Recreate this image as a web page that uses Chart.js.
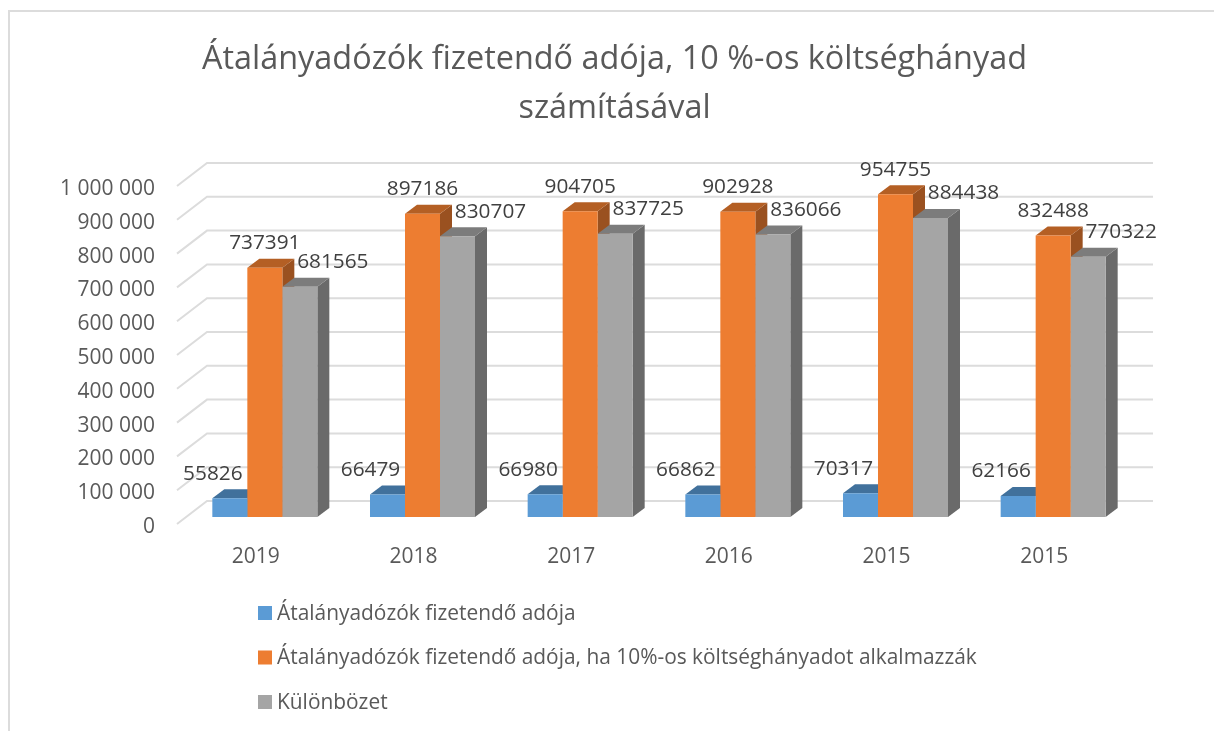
<!DOCTYPE html>
<html>
<head>
<meta charset="utf-8">
<title>Átalányadózók</title>
<script src="https://cdn.jsdelivr.net/npm/chart.js@4"></script>
<style>
  body { margin: 0; background: #fff; }
  canvas { display: block; }
</style>
</head>
<body>
<canvas id="myChart" width="1214" height="731"></canvas>
<script>
const evek = ['2019', '2018', '2017', '2016', '2015', '2015'];
const adoja = [55826, 66479, 66980, 66862, 70317, 62166];
const adoja10 = [737391, 897186, 904705, 902928, 954755, 832488];
const kulonbozet = [681565, 830707, 837725, 836066, 884438, 770322];
const yCimkek = ['0', '100 000', '200 000', '300 000', '400 000', '500 000',
  '600 000', '700 000', '800 000', '900 000', '1 000 000'];

const szovegSzin = '#595959';
const racsSzin = '#dcdcdc';
const fontCsalad = '"Open Sans", "Noto Sans", sans-serif';

// top and side colours of the fake 3d bars, one per series
const tetoSzin = ['#41719c', '#b45f24', '#7c7c7c'];
const oldalSzin = ['#37608a', '#9a5120', '#6a6a6a'];
const cimkeEltolas = [-17, 0, 33];

// depth of a bar
const melyX = 12;
const melyY = 9;

const keret = {
  id: 'keret',
  beforeDraw(chart) {
    const ctx = chart.ctx;
    ctx.save();
    ctx.strokeStyle = racsSzin;
    ctx.lineWidth = 2;
    ctx.beginPath();
    ctx.moveTo(9, 731);
    ctx.lineTo(9, 11);
    ctx.lineTo(1214, 11);
    ctx.stroke();
    ctx.restore();
  }
};

const igazit = {
  id: 'igazit',
  afterLayout(chart) {
    // title is centred on the frame
    chart.titleBlock.left = 0;
    chart.titleBlock.right = 1229;
  }
};

// one column legend under the plot
const jelmagyarazat = {
  id: 'jelmagyarazat',
  afterDraw(chart) {
    const ctx = chart.ctx;
    ctx.save();
    ctx.font = '20.9px ' + fontCsalad;
    ctx.textBaseline = 'middle';
    chart.data.datasets.forEach((ds, i) => {
      const sorY = 613 + i * 44.5;
      ctx.fillStyle = ds.backgroundColor;
      ctx.fillRect(258, sorY - 7, 14, 14);
      ctx.fillStyle = szovegSzin;
      ctx.fillText(ds.label, 277, sorY + 1);
    });
    ctx.restore();
  }
};

const harom = {
  id: 'harom',
  beforeDatasetsDraw(chart) {
    const ctx = chart.ctx;
    const y = chart.scales.y;
    const area = chart.chartArea;
    ctx.save();
    // back wall and left wall lines
    ctx.strokeStyle = racsSzin;
    ctx.lineWidth = 2;
    y.ticks.forEach(t => {
      const py = y.getPixelForValue(t.value);
      ctx.beginPath();
      ctx.moveTo(area.left - 9, py + 7);
      ctx.lineTo(area.left + 21, py - 16);
      ctx.lineTo(area.right + 21, py - 16);
      ctx.stroke();
    });
    // tops and sides, the library draws the front faces over them
    chart.data.datasets.forEach((ds, i) => {
      chart.getDatasetMeta(i).data.forEach(bar => {
        const bal = bar.x - bar.width / 2;
        const jobb = bar.x + bar.width / 2;
        ctx.fillStyle = oldalSzin[i];
        ctx.beginPath();
        ctx.moveTo(jobb, bar.y);
        ctx.lineTo(jobb + melyX, bar.y - melyY);
        ctx.lineTo(jobb + melyX, bar.base - melyY);
        ctx.lineTo(jobb, bar.base);
        ctx.closePath();
        ctx.fill();
        ctx.fillStyle = tetoSzin[i];
        ctx.beginPath();
        ctx.moveTo(bal, bar.y);
        ctx.lineTo(bal + melyX, bar.y - melyY);
        ctx.lineTo(jobb + melyX, bar.y - melyY);
        ctx.lineTo(jobb, bar.y);
        ctx.closePath();
        ctx.fill();
      });
    });
    ctx.restore();
  },
  afterDatasetsDraw(chart) {
    const ctx = chart.ctx;
    ctx.save();
    ctx.font = '20.8px ' + fontCsalad;
    ctx.fillStyle = '#404040';
    ctx.textAlign = 'center';
    ctx.textBaseline = 'middle';
    chart.data.datasets.forEach((ds, i) => {
      chart.getDatasetMeta(i).data.forEach((bar, j) => {
        ctx.fillText(String(ds.data[j]), bar.x + cimkeEltolas[i], bar.y - 24.5);
      });
    });
    ctx.restore();
  }
};

new Chart(document.getElementById('myChart'), {
  type: 'bar',
  data: {
    labels: evek,
    datasets: [
      { label: 'Átalányadózók fizetendő adója', data: adoja, backgroundColor: '#5b9bd5' },
      { label: 'Átalányadózók fizetendő adója, ha 10%-os költséghányadot alkalmazzák', data: adoja10, backgroundColor: '#ed7d31' },
      { label: 'Különbözet', data: kulonbozet, backgroundColor: '#a5a5a5' }
    ]
  },
  options: {
    responsive: false,
    animation: false,
    layout: { padding: { right: 82 } },
    datasets: { bar: { categoryPercentage: 0.666, barPercentage: 1, borderWidth: 0 } },
    plugins: {
      tooltip: { enabled: false },
      legend: { display: false },
      title: {
        display: true,
        text: ['Átalányadózók fizetendő adója, 10 %-os költséghányad', 'számításával'],
        color: szovegSzin,
        font: { family: fontCsalad, size: 32.4, weight: 'normal', lineHeight: 49 / 32.4 },
        padding: { top: 35, bottom: 46 }
      }
    },
    scales: {
      x: {
        afterFit(axis) { axis.height = 214; },
        grid: { display: false },
        border: { display: false },
        ticks: {
          color: szovegSzin,
          font: { family: fontCsalad, size: 21 },
          padding: 19,
          labelOffset: -9,
          autoSkip: false,
          maxRotation: 0
        }
      },
      y: {
        min: 0,
        max: 1000000,
        afterFit(axis) { axis.width = 186; },
        grid: { display: false, drawTicks: false },
        border: { display: false },
        ticks: {
          stepSize: 100000,
          color: szovegSzin,
          font: { family: fontCsalad, size: 21 },
          padding: 31,
          labelOffset: 10,
          callback: (v, i) => yCimkek[i]
        }
      }
    }
  },
  plugins: [keret, igazit, jelmagyarazat, harom]
});
</script>
</body>
</html>
